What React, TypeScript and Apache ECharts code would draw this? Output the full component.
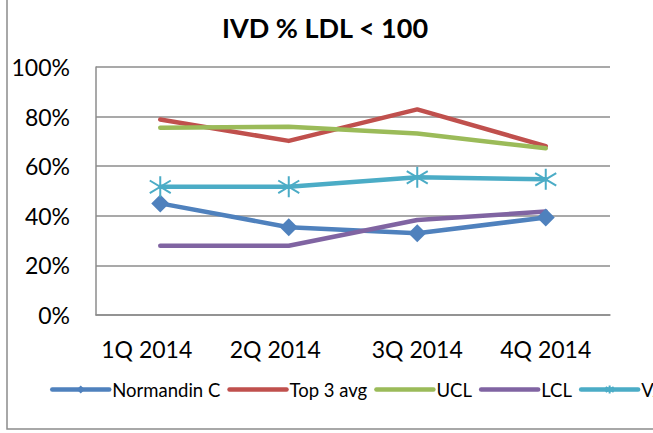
import React, { useEffect, useRef } from "react";
import * as echarts from "echarts";

const categories = ["1Q 2014", "2Q 2014", "3Q 2014", "4Q 2014"];
const seriesNames = ["Normandin C", "Top 3 avg", "UCL", "LCL", "VA"];
const normandin = [45.0, 35.4, 33.0, 39.3];
const top3Avg = [78.8, 70.2, 82.9, 68.1];
const ucl = [75.5, 75.9, 73.2, 67.2];
const lcl = [27.9, 27.9, 38.3, 41.7];
const vaSeries = [51.7, 51.7, 55.5, 54.7];
const colors = ["#4F81BD", "#C0504D", "#9BBB59", "#8064A2", "#4BACC6"];

const FONT = "Lato, 'Noto Sans', sans-serif";
const ASTERISK = "path://M10,0 L10,20 M1,4 L19,16 M1,16 L19,4";

export default function App() {
  const ref = useRef<HTMLDivElement>(null);
  useEffect(() => {
    if (!ref.current) return;
    const chart = echarts.init(ref.current, null, { renderer: "svg" });
    const lineBase = (i: number) => ({
      type: "line",
      name: seriesNames[i],
      lineStyle: { color: colors[i], width: 4.5, cap: "round", join: "round" },
      itemStyle: { color: colors[i] },
      emphasis: { disabled: true },
    });
    const hiddenSymbol = { itemStyle: { opacity: 0 } };
    chart.setOption({
      animation: false,
      color: colors,
      title: {
        text: "IVD % LDL < 100",
        left: 222,
        top: 14,
        padding: 0,
        textStyle: { fontFamily: FONT, fontSize: 27, fontWeight: "bold", color: "#000" },
      },
      graphic: [
        {
          type: "rect",
          shape: { x: 7, y: -10, width: 900, height: 439 },
          style: { fill: "none", stroke: "#8c8c8c", lineWidth: 1.5 },
          silent: true,
        },
      ],
      legend: {
        left: 50,
        top: 380,
        padding: 0,
        itemWidth: 57,
        itemHeight: 10,
        itemGap: 7,
        lineStyle: { width: 4.5, cap: "round" },
        data: [
          { name: seriesNames[0] },
          { name: seriesNames[1], ...hiddenSymbol },
          { name: seriesNames[2], ...hiddenSymbol },
          { name: seriesNames[3], ...hiddenSymbol },
          { name: seriesNames[4] },
        ],
        textStyle: { fontFamily: FONT, fontSize: 18.5, color: "#000", padding: [0, 0, 0, -2] },
      },
      grid: { left: 96, top: 67, width: 514, height: 248 },
      xAxis: {
        type: "category",
        data: categories,
        axisLine: { show: true, lineStyle: { color: "#8c8c8c", width: 1.5 } },
        axisTick: { show: false },
        axisLabel: {
          interval: 0,
          hideOverlap: false,
          margin: 22,
          color: "#000",
          fontFamily: FONT,
          fontSize: 23,
          formatter: (v: string, i: number) => (i < 2 ? `{s|${v}}` : `{n|${v}}`),
          rich: {
            s: { fontFamily: FONT, fontSize: 23, color: "#000", padding: [0, 27, 0, 0] },
            n: { fontFamily: FONT, fontSize: 23, color: "#000" },
          },
        },
      },
      yAxis: {
        type: "value",
        min: 0,
        max: 100,
        interval: 20,
        axisLine: { show: true, lineStyle: { color: "#8c8c8c", width: 1.5 } },
        axisTick: { show: false },
        splitLine: { lineStyle: { color: "#8c8c8c", width: 1.5 } },
        axisLabel: {
          margin: 26,
          color: "#000",
          fontFamily: FONT,
          fontSize: 23,
          formatter: "{value}%",
        },
      },
      series: [
        { ...lineBase(0), data: normandin, symbol: "diamond", symbolSize: 18 },
        { ...lineBase(1), data: top3Avg, symbol: "none" },
        { ...lineBase(2), data: ucl, symbol: "none" },
        { ...lineBase(3), data: lcl, symbol: "none" },
        {
          ...lineBase(4),
          data: vaSeries,
          symbol: ASTERISK,
          symbolSize: 21,
          itemStyle: { color: "none", borderColor: colors[4], borderWidth: 2 },
        },
      ],
    });
    return () => chart.dispose();
  }, []);
  return (
    <div
      style={{
        position: "fixed",
        left: 0,
        top: 0,
        width: 653,
        height: 433,
        overflow: "hidden",
        background: "#fff",
      }}
    >
      <div ref={ref} style={{ width: 800, height: 433 }} />
    </div>
  );
}
